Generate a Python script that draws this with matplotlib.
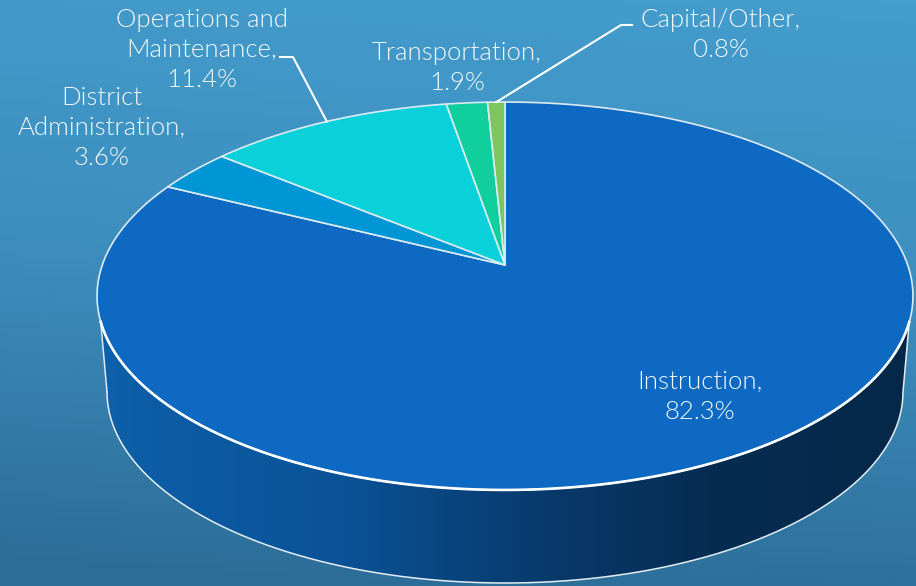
import numpy as np
import matplotlib
matplotlib.use("Agg")
import matplotlib.pyplot as plt
from matplotlib.colors import LinearSegmentedColormap
from matplotlib.patches import Polygon

categories = ["Instruction", "District\nAdministration", "Operations and\nMaintenance",
              "Transportation", "Capital/Other"]
shares = [82.3, 3.6, 11.4, 1.9, 0.8]
slice_colors = ["#0d69c1", "#0096d6", "#0ad0da", "#10cf9c", "#7dc65e"]

# label centres in pixels
label_pos = [(700, 397), (102, 128), (202, 50), (457, 68), (721, 35)]

W, H = 916, 586
CX, CY = 505, 265      # apex of the pie
AX, BY, PERSP = 402.7, 189, 0.1598
FONT = "Lato"


def rim(deg):
    # clockwise degrees from 12 o'clock -> pixel position on the top face
    t = np.radians(deg)
    u, v = np.sin(t), np.cos(t)
    w = 1 + PERSP * v
    return CX + AX * u / w, CY - BY * v / w


def bottom_arc(start, stop, n=200):
    # bottom edge of the side wall
    t = np.radians(np.linspace(start, stop, n))
    return 505 + 398 * np.cos(t), 392 + 191 * np.sin(t)


fig = plt.figure(figsize=(W / 100, H / 100), dpi=100)
ax = fig.add_axes([0, 0, 1, 1])
ax.set_xlim(0, W)
ax.set_ylim(H, 0)
ax.axis("off")

# background, slightly tilted vertical gradient
yy, xx = np.mgrid[0:1:120j, 0:1:120j]
bg = LinearSegmentedColormap.from_list("bg", ["#449dcd", "#3c8dbc", "#2c6c97"])
ax.imshow(np.clip(yy * 0.92 + (1 - xx) * 0.1, 0, 1), cmap=bg, vmin=0, vmax=1, extent=(0, W, H, 0),
          aspect="auto", zorder=0)

# side wall
rim_deg = np.linspace(106.7, 253.3, 300)
top_x, top_y = rim(rim_deg)
bot_x, bot_y = bottom_arc(0, 180)
wall_xy = np.r_[np.c_[top_x, top_y], np.c_[bot_x[::-1], bot_y[::-1]]]
wall = Polygon(wall_xy, closed=True, facecolor="none", edgecolor="none", zorder=1)
ax.add_patch(wall)
wall_cmap = LinearSegmentedColormap.from_list(
    "wall", [(0, "#0d60aa"), (0.3, "#0a5296"), (0.55, "#083a6c"), (0.75, "#062c52"), (1, "#052848")])
grad = ax.imshow(np.linspace(0, 1, 400).reshape(1, -1), cmap=wall_cmap, extent=(97, 913, 590, 280),
                 aspect="auto", zorder=1)
grad.set_clip_path(wall)
ax.set_xlim(0, W)
ax.set_ylim(H, 0)
ax.plot(np.r_[top_x[0], bot_x], np.r_[top_y[0], bot_y], color="#e4edf2", lw=1.1, zorder=2)
ax.plot(np.r_[bot_x[-1], top_x[-1]], np.r_[bot_y[-1], top_y[-1]], color="#dfe8ee", lw=1.1, zorder=2)

# top face, clockwise from 12 o'clock
mids = []
start = 0
for share, color in zip(shares, slice_colors):
    stop = start + share * 3.6
    arc_x, arc_y = rim(np.linspace(start, stop, max(int(share * 6), 8)))
    ax.fill(np.r_[CX, arc_x], np.r_[CY, arc_y], facecolor=color, edgecolor="#dcebf2", lw=1.2,
            joinstyle="round", zorder=3)
    mids.append((start + stop) / 2)
    start = stop

# brighter rim on the front half
ax.plot(top_x, top_y, color="white", lw=1.9, zorder=4)

# leader lines for the two labels that need them
ops_x, ops_y = rim(mids[2])
ax.plot([ops_x, 293, 280], [ops_y, 57, 57], color="white", lw=1.5, zorder=5)
cap_x, cap_y = rim(mids[4])
ax.plot([cap_x, 621, 632], [cap_y, 25, 25], color="white", lw=1.5, zorder=5)

for name, share, (x, y) in zip(categories, shares, label_pos):
    ax.text(x, y, f"{name},\n{share:.1f}%", color="#f4f9fc", fontsize=18.5, family=FONT, weight=300,
            ha="center", va="center", ma="center", linespacing=1.3, zorder=6)

fig.savefig("out.png", dpi=100)
plt.close(fig)
